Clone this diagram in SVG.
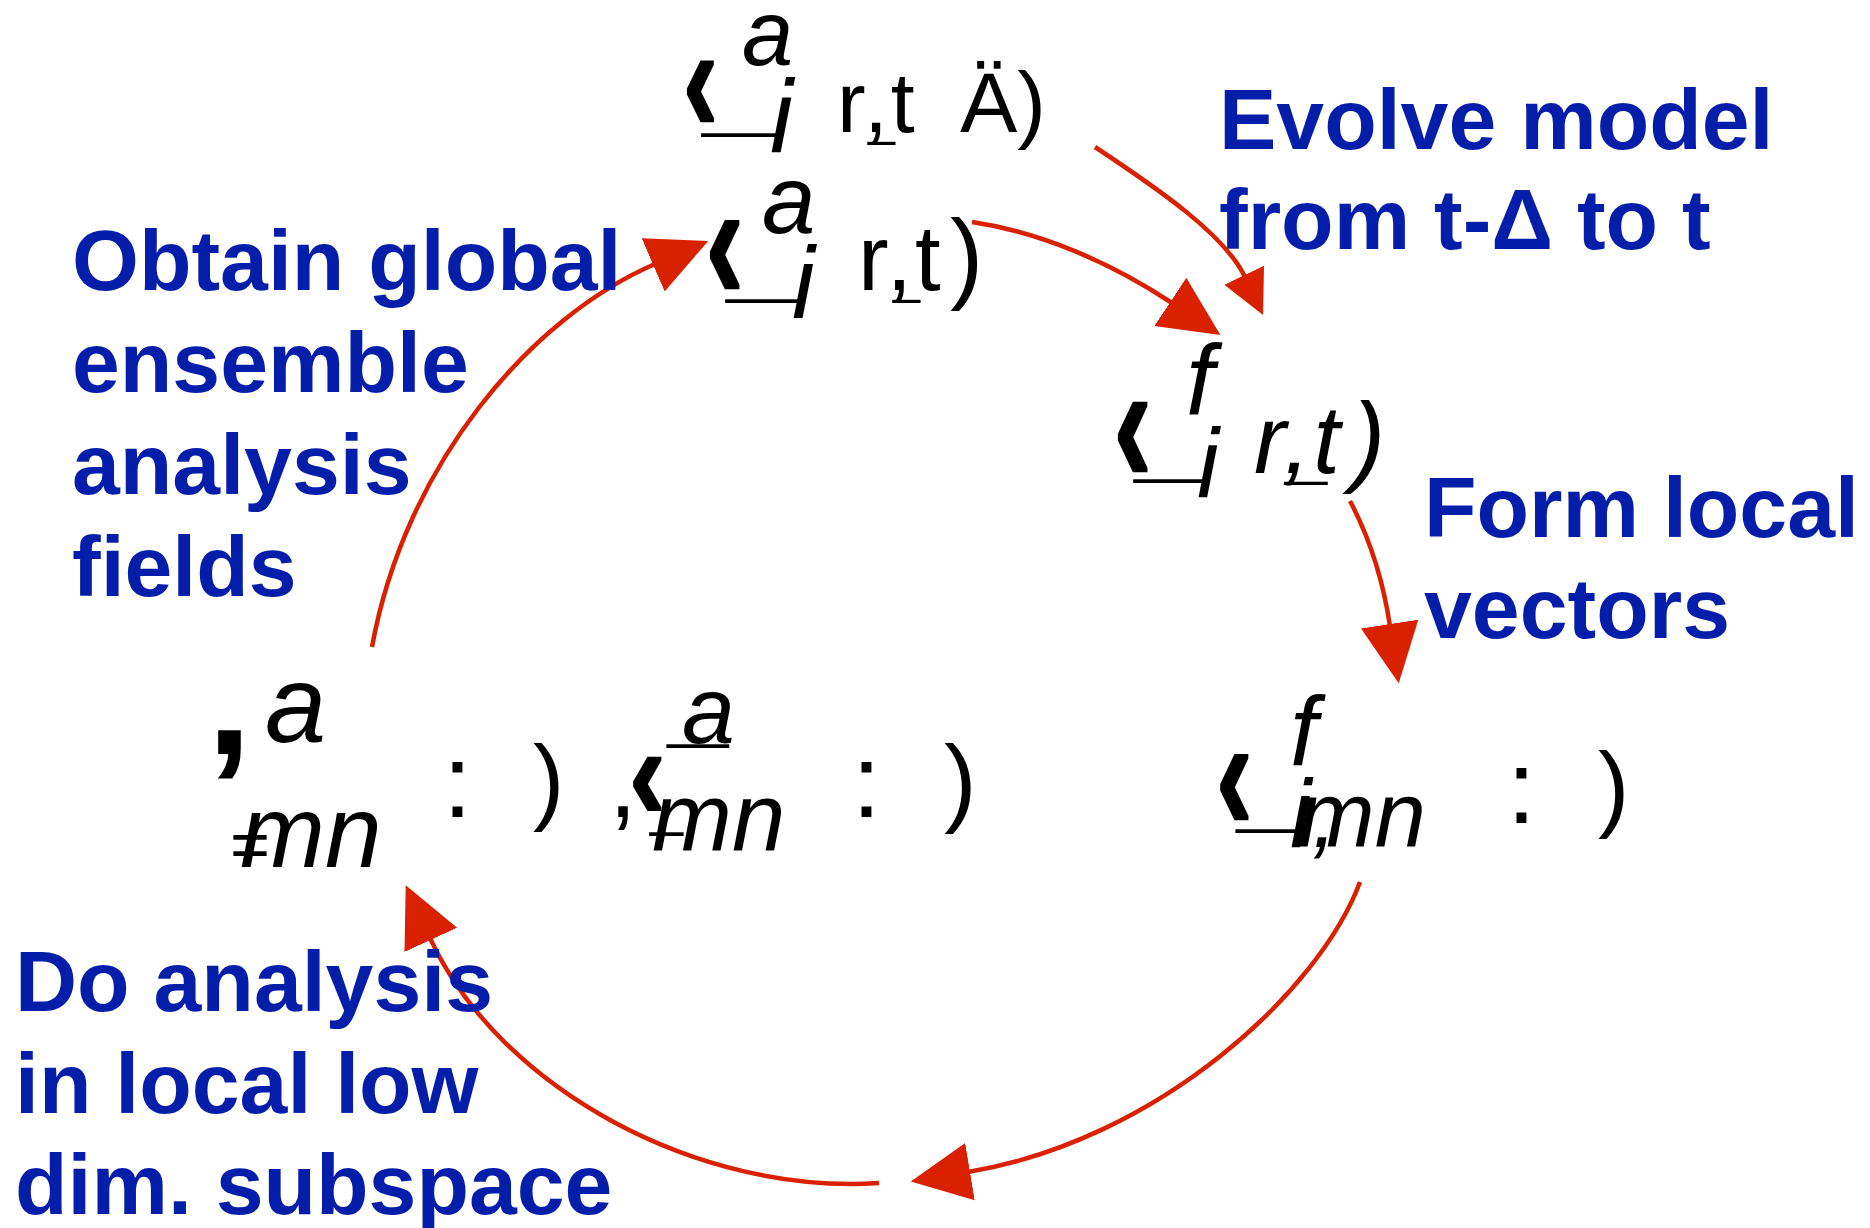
<svg xmlns="http://www.w3.org/2000/svg" width="1870" height="1228" viewBox="0 0 1870 1228">
<style>
.lbl{font-family:"Liberation Sans",Arial,sans-serif;font-weight:bold;font-size:86px;fill:#041EAA}
.m{font-family:"Liberation Sans",Arial,sans-serif;fill:#000}
.it{font-style:italic}
.b{font-weight:bold}
.arrow{fill:none;stroke:#D92100;stroke-width:4.5}
</style>
<defs>
<marker id="head" markerUnits="userSpaceOnUse" markerWidth="62" markerHeight="60" viewBox="0 0 62 60" refX="2" refY="30" orient="auto"><path d="M0,1 L60,30 L0,59 z" fill="#D92100"/></marker>
<marker id="headSm" markerUnits="userSpaceOnUse" markerWidth="46" markerHeight="46" viewBox="0 0 46 46" refX="2" refY="23" orient="auto"><path d="M0,1 L44,23 L0,45 z" fill="#D92100"/></marker>
</defs>
<rect width="1870" height="1228" fill="#fff"/>

<g id="connectors">
<path class="arrow" marker-end="url(#head)" d="M372,647 C405,465 530,318 655,264"/>
<path class="arrow" marker-end="url(#head)" d="M972,222 C1040,232 1110,262 1172,303"/>
<path class="arrow" marker-end="url(#headSm)" d="M1095,147 C1160,190 1225,235 1245,277"/>
<path class="arrow" marker-end="url(#head)" d="M1350,501 C1368,535 1383,580 1390,626"/>
<path class="arrow" marker-end="url(#head)" d="M1360,882 C1320,990 1160,1140 968,1172"/>
<path class="arrow" marker-end="url(#head)" d="M879,1183 C700,1195 500,1090 430,938"/>
</g>

<g id="label-evolve">
<text class="lbl" x="1219" y="149">Evolve model</text>
<text class="lbl" x="1219" y="249">from t-Δ to t</text>
</g>
<g id="label-obtain">
<text class="lbl" x="72" y="290">Obtain global</text>
<text class="lbl" x="72" y="392">ensemble</text>
<text class="lbl" x="72" y="494">analysis</text>
<text class="lbl" x="72" y="596">fields</text>
</g>
<g id="label-form">
<text class="lbl" x="1424" y="537">Form local</text>
<text class="lbl" x="1424" y="638">vectors</text>
</g>
<g id="label-do">
<text class="lbl" x="15" y="1011">Do analysis</text>
<text class="lbl" x="15" y="1113">in local low</text>
<text class="lbl" x="15" y="1214">dim. subspace</text>
</g>

<g id="node-analysis-prev">
<text class="m b" font-size="100" stroke="#000" stroke-width="1.5" transform="translate(683,132) scale(1.05,1.53)">‹</text>
<text class="m it" x="742" y="65" font-size="92">a</text>
<text class="m" x="703" y="124.5" font-size="60" textLength="72" lengthAdjust="spacingAndGlyphs">_</text>
<text class="m it" x="770" y="152" font-size="103">i</text>
<text class="m" x="837" y="132" font-size="86" letter-spacing="3">r,t</text>
<text class="m" x="868" y="135" font-size="50" textLength="27" lengthAdjust="spacingAndGlyphs">_</text>
<text class="m" x="960" y="132" font-size="86">Ä)</text>
</g>

<g id="node-analysis">
<text class="m b" font-size="110" stroke="#000" stroke-width="1.5" transform="translate(705.6,300) scale(1.05,1.56)">‹</text>
<text class="m it" x="762" y="233" font-size="96">a</text>
<text class="m" x="727" y="291.4" font-size="60" textLength="70" lengthAdjust="spacingAndGlyphs">_</text>
<text class="m it" x="792" y="318" font-size="102">i</text>
<text class="m" x="858" y="290" font-size="92" letter-spacing="3">r,t<tspan x="950" font-size="100">)</tspan></text>
<text class="m" x="893" y="293" font-size="50" textLength="27" lengthAdjust="spacingAndGlyphs">_</text>
</g>

<g id="node-forecast">
<text class="m b" font-size="110" stroke="#000" stroke-width="1.5" transform="translate(1113.6,483) scale(1.05,1.58)">‹</text>
<text class="m it" x="1186" y="415" font-size="100">f</text>
<text class="m" x="1135" y="471.4" font-size="60" textLength="68" lengthAdjust="spacingAndGlyphs">_</text>
<text class="m it" x="1197" y="497" font-size="98">i</text>
<text class="m it" x="1254" y="473" font-size="96" letter-spacing="3">r,t<tspan x="1352" font-size="100">)</tspan></text>
<text class="m" x="1285" y="475" font-size="50" textLength="42" lengthAdjust="spacingAndGlyphs">_</text>
</g>

<g id="node-local-analysis">
<text class="m b" x="207" y="754" font-size="160">,</text>
<text class="m it" x="265" y="742" font-size="110">a</text>
<text class="m" x="230" y="867" font-size="65" textLength="40" lengthAdjust="spacingAndGlyphs">=</text>
<text class="m it" x="240" y="867" font-size="102">mn</text>
<text class="m" x="443" y="817" font-size="104">:</text>
<text class="m" x="533" y="812" font-size="94">)</text>
</g>

<g id="node-local-analysis-2">
<text class="m" x="609" y="817" font-size="100">,</text>
<text class="m b" font-size="105" stroke="#000" stroke-width="1.5" transform="translate(629,819) scale(1.05,1.27)">‹</text>
<text class="m it" x="682" y="743" font-size="95">a</text>
<text class="m" x="668" y="736.4" font-size="60" textLength="60" lengthAdjust="spacingAndGlyphs">_</text>
<text class="m it" x="652" y="850" font-size="96">mn</text>
<text class="m" x="650" y="824.4" font-size="60" textLength="33" lengthAdjust="spacingAndGlyphs">_</text>
<text class="m" x="852" y="817" font-size="104">:</text>
<text class="m" x="944" y="814" font-size="98">)</text>
</g>

<g id="node-local-forecast">
<text class="m b" font-size="105" stroke="#000" stroke-width="1.5" transform="translate(1216,830) scale(1.05,1.56)">‹</text>
<text class="m it" x="1290" y="765" font-size="98">f</text>
<text class="m" x="1237" y="821.4" font-size="60" textLength="60" lengthAdjust="spacingAndGlyphs">_</text>
<text class="m it" x="1290" y="847" font-size="96">i</text>
<text class="m it" x="1312" y="847" font-size="90">,</text>
<text class="m it" x="1298" y="847" font-size="92">mn</text>
<text class="m" x="1507" y="823" font-size="104">:</text>
<text class="m" x="1598" y="819" font-size="94">)</text>
</g>
</svg>
